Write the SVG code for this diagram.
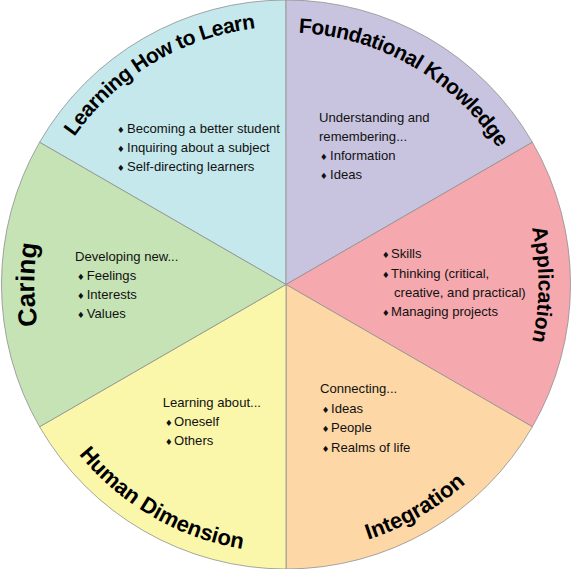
<svg xmlns="http://www.w3.org/2000/svg" width="571" height="569" viewBox="0 0 571 569">
<style>
.w{stroke:#8f8f8f;stroke-width:0.8}
.t{font-family:"Liberation Sans",Arial,sans-serif;font-weight:bold;fill:#000}
.b{font-family:"Liberation Sans",Arial,sans-serif;font-size:13.1px;fill:#111}
.d{font-family:"DejaVu Sans",sans-serif;font-size:8.5px}
</style>
<defs>
<path id="pL" d="M28,289 A258,258 0 0 1 411.1,58.9"/>
<path id="pF" d="M160,66.3 A252,252 0 0 1 538,284.5"/>
<path id="pA" d="M411,66 A251,251 0 0 1 411,503"/>
<path id="pC" d="M161,502 A250,250 0 0 1 161,67"/>
<path id="pI" d="M152,516.6 A268,268 0 0 0 554,284.5"/>
<path id="pH" d="M18,284.5 A268,268 0 0 0 420,516.6"/>
</defs>
<g id="learning-how-to-learn">
<path class="w" fill="#c5e8ec" d="M286,284.5 L39.6,142.25 A284.5,284.5 0 0 1 286,0 Z"/>
<text class="t" font-size="21" letter-spacing="-0.5"><textPath href="#pL" startOffset="50%" text-anchor="middle">Learning How to Learn</textPath></text>
<text class="b" y="132.7"><tspan class="d" x="117">♦</tspan><tspan x="127">Becoming a better student</tspan></text>
<text class="b" y="151.7"><tspan class="d" x="117">♦</tspan><tspan x="127">Inquiring about a subject</tspan></text>
<text class="b" y="171"><tspan class="d" x="117">♦</tspan><tspan x="127">Self-directing learners</tspan></text>
</g>
<g id="foundational-knowledge">
<path class="w" fill="#c8c4e0" d="M286,284.5 L286,0 A284.5,284.5 0 0 1 532.4,142.25 Z"/>
<text class="t" font-size="21" letter-spacing="-0.5"><textPath href="#pF" startOffset="50%" text-anchor="middle">Foundational Knowledge</textPath></text>
<text class="b" x="319" y="122">Understanding and</text>
<text class="b" x="319" y="141">remembering...</text>
<text class="b" y="160"><tspan class="d" x="320">♦</tspan><tspan x="330">Information</tspan></text>
<text class="b" y="179"><tspan class="d" x="320">♦</tspan><tspan x="330">Ideas</tspan></text>
</g>
<g id="application">
<path class="w" fill="#f5a9ae" d="M286,284.5 L532.4,142.25 A284.5,284.5 0 0 1 532.4,426.75 Z"/>
<text class="t" font-size="21"><textPath href="#pA" startOffset="50%" text-anchor="middle">Application</textPath></text>
<text class="b" y="258"><tspan class="d" x="382">♦</tspan><tspan x="391">Skills</tspan></text>
<text class="b" y="277.7"><tspan class="d" x="382">♦</tspan><tspan x="391">Thinking (critical,</tspan></text>
<text class="b" x="394" y="296.7">creative, and practical)</text>
<text class="b" y="316"><tspan class="d" x="382">♦</tspan><tspan x="391">Managing projects</tspan></text>
</g>
<g id="integration">
<path class="w" fill="#fdd8a6" d="M286,284.5 L532.4,426.75 A284.5,284.5 0 0 1 286,569 Z"/>
<text class="t" font-size="22"><textPath href="#pI" startOffset="50%" text-anchor="middle">Integration</textPath></text>
<text class="b" x="320" y="392.7">Connecting...</text>
<text class="b" y="412.7"><tspan class="d" x="321.7">♦</tspan><tspan x="331">Ideas</tspan></text>
<text class="b" y="432.3"><tspan class="d" x="321.7">♦</tspan><tspan x="331">People</tspan></text>
<text class="b" y="451.7"><tspan class="d" x="321.7">♦</tspan><tspan x="331">Realms of life</tspan></text>
</g>
<g id="human-dimension">
<path class="w" fill="#fbf7aa" d="M286,284.5 L286,569 A284.5,284.5 0 0 1 39.6,426.75 Z"/>
<text class="t" font-size="22"><textPath href="#pH" startOffset="50%" text-anchor="middle">Human Dimension</textPath></text>
<text class="b" x="162.7" y="406.7">Learning about...</text>
<text class="b" y="426"><tspan class="d" x="165">♦</tspan><tspan x="174">Oneself</tspan></text>
<text class="b" y="445"><tspan class="d" x="165">♦</tspan><tspan x="174">Others</tspan></text>
</g>
<g id="caring">
<path class="w" fill="#c6e3b5" d="M286,284.5 L39.6,426.75 A284.5,284.5 0 0 1 39.6,142.25 Z"/>
<text class="t" font-size="26"><textPath href="#pC" startOffset="50%" text-anchor="middle">Caring</textPath></text>
<text class="b" x="75" y="261">Developing new...</text>
<text class="b" y="280"><tspan class="d" x="77">♦</tspan><tspan x="86.7">Feelings</tspan></text>
<text class="b" y="299.3"><tspan class="d" x="77">♦</tspan><tspan x="86.7">Interests</tspan></text>
<text class="b" y="318"><tspan class="d" x="77">♦</tspan><tspan x="86.7">Values</tspan></text>
</g>
</svg>
